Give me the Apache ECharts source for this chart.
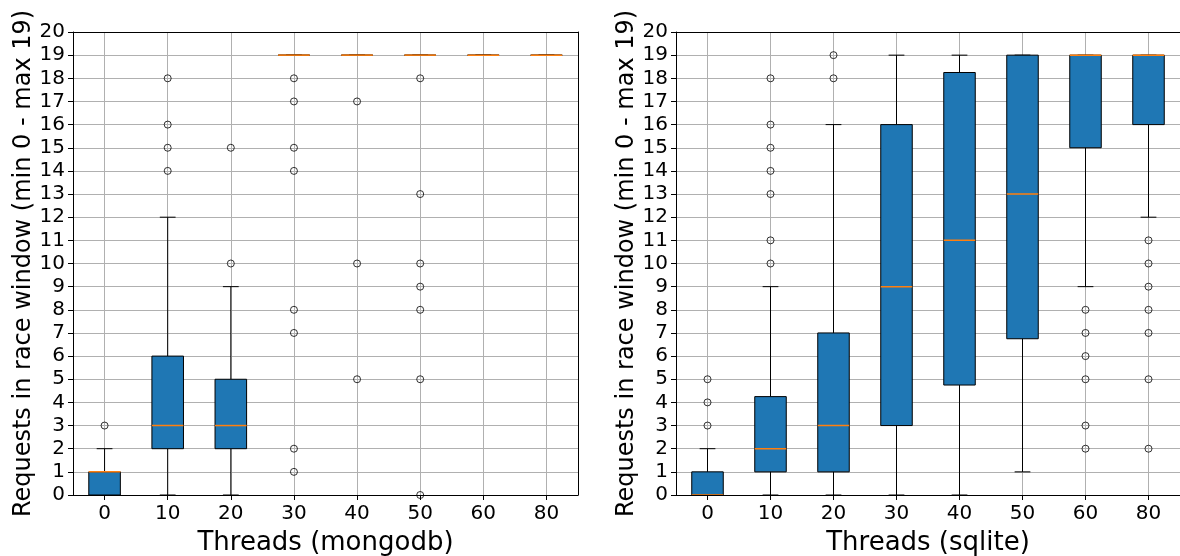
<!DOCTYPE html>
<html>
<head>
<meta charset="utf-8" />
<script src="https://cdn.jsdelivr.net/npm/echarts@6/dist/echarts.min.js"></script>
</head>
<body style="margin:0">
<div id="main" style="width:1180px;height:556px"></div>
<script>
// thread counts on the x axis
const threads = ['0', '10', '20', '30', '40', '50', '60', '80'];

// mongodb: whisker low, q1, median, q3, whisker high
const mongoLow = [0, 0, 0, 19, 19, 19, 19, 19];
const mongoQ1 = [0, 2, 2, 19, 19, 19, 19, 19];
const mongoMed = [1, 3, 3, 19, 19, 19, 19, 19];
const mongoQ3 = [1, 6, 5, 19, 19, 19, 19, 19];
const mongoHigh = [2, 12, 9, 19, 19, 19, 19, 19];
// outliers as [thread index, value]
const mongoFliers = [
  [0, 3],
  [1, 14], [1, 15], [1, 16], [1, 18],
  [2, 10], [2, 15],
  [3, 1], [3, 2], [3, 7], [3, 8], [3, 14], [3, 15], [3, 17], [3, 18],
  [4, 5], [4, 10], [4, 17],
  [5, 0], [5, 5], [5, 8], [5, 9], [5, 10], [5, 13], [5, 18]
];

// sqlite
const sqliteLow = [0, 0, 0, 0, 0, 1, 9, 12];
const sqliteQ1 = [0, 1, 1, 3, 4.75, 6.75, 15, 16];
const sqliteMed = [0, 2, 3, 9, 11, 13, 19, 19];
const sqliteQ3 = [1, 4.25, 7, 16, 18.25, 19, 19, 19];
const sqliteHigh = [2, 9, 16, 19, 19, 19, 19, 19];
const sqliteFliers = [
  [0, 3], [0, 4], [0, 5],
  [1, 10], [1, 11], [1, 13], [1, 14], [1, 15], [1, 16], [1, 18],
  [2, 18], [2, 19],
  [6, 2], [6, 3], [6, 5], [6, 6], [6, 7], [6, 8],
  [7, 2], [7, 5], [7, 7], [7, 8], [7, 9], [7, 10], [7, 11]
];

const font = 'DejaVu Sans';

function renderBox(params, api) {
  const i = api.value(0);
  const lo = api.coord([i, api.value(1)]);
  const q1 = api.coord([i, api.value(2)]);
  const md = api.coord([i, api.value(3)]);
  const q3 = api.coord([i, api.value(4)]);
  const hi = api.coord([i, api.value(5)]);
  const w = api.size([1, 0])[0] * 0.5;
  const x = lo[0];
  const black = { stroke: '#000', lineWidth: 1 };
  return {
    type: 'group',
    children: [
      { type: 'line', shape: { x1: x, y1: lo[1], x2: x, y2: q1[1] }, style: black },
      { type: 'line', shape: { x1: x, y1: q3[1], x2: x, y2: hi[1] }, style: black },
      { type: 'line', shape: { x1: x - w / 4, y1: lo[1], x2: x + w / 4, y2: lo[1] }, style: black },
      { type: 'line', shape: { x1: x - w / 4, y1: hi[1], x2: x + w / 4, y2: hi[1] }, style: black },
      {
        type: 'rect',
        shape: { x: x - w / 2, y: q3[1], width: w, height: q1[1] - q3[1] },
        style: { fill: '#1f77b4', stroke: '#000', lineWidth: 1 }
      },
      { type: 'line', shape: { x1: x - w / 2, y1: md[1], x2: x + w / 2, y2: md[1] }, style: { stroke: '#ff7f0e', lineWidth: 1.5 } }
    ]
  };
}

function boxData(lo, q1, md, q3, hi) {
  return threads.map((t, i) => [i, lo[i], q1[i], md[i], q3[i], hi[i]]);
}

function mainX(grid, name) {
  return {
    type: 'category', gridIndex: grid, data: threads, position: 'bottom',
    name: name, nameLocation: 'middle', nameGap: 35,
    nameTextStyle: { fontFamily: font, fontSize: 26, color: '#000' },
    axisLine: { show: false },
    axisTick: { show: true, alignWithLabel: true, length: 5, lineStyle: { color: '#000' } },
    axisLabel: { fontFamily: font, fontSize: 20, color: '#000', margin: 9 },
    splitLine: { show: true, alignWithLabel: true, lineStyle: { color: '#b0b0b0', width: 1 } }
  };
}
function mainY(grid) {
  return {
    type: 'value', gridIndex: grid, min: 0, max: 20, interval: 1, position: 'left',
    name: 'Requests in race window (min 0 - max 19)', nameLocation: 'middle', nameGap: 36,
    nameTextStyle: { fontFamily: font, fontSize: 24, color: '#000' },
    axisLine: { show: false },
    axisTick: { show: true, length: 5, lineStyle: { color: '#000' } },
    axisLabel: { fontFamily: font, fontSize: 20, color: '#000', margin: 8 },
    splitLine: { show: true, lineStyle: { color: '#b0b0b0', width: 1 } }
  };
}
// plain black frame lines drawn above the boxes
function spineX(grid, pos) {
  return {
    type: 'category', gridIndex: grid, data: threads, position: pos, z: 10,
    axisLine: { show: true, onZero: false, lineStyle: { color: '#000', width: 1 } },
    axisTick: { show: false }, axisLabel: { show: false }, splitLine: { show: false }
  };
}
function spineY(grid, pos) {
  return {
    type: 'value', gridIndex: grid, min: 0, max: 20, position: pos, z: 10,
    axisLine: { show: true, onZero: false, lineStyle: { color: '#000', width: 1 } },
    axisTick: { show: false }, axisLabel: { show: false }, splitLine: { show: false }
  };
}

const flierStyle = { color: 'rgba(0,0,0,0)', borderColor: '#000', borderWidth: 1 };

const option = {
  animation: false,
  grid: [
    { left: 73, top: 32, width: 505, height: 463, outerBoundsMode: 'none' },
    { left: 676, top: 32, width: 504, height: 463, outerBoundsMode: 'none' }
  ],
  xAxis: [
    mainX(0, 'Threads (mongodb)'), spineX(0, 'bottom'), spineX(0, 'top'),
    mainX(1, 'Threads (sqlite)'), spineX(1, 'bottom'), spineX(1, 'top')
  ],
  yAxis: [
    mainY(0), spineY(0, 'left'), spineY(0, 'right'),
    mainY(1), spineY(1, 'left'), spineY(1, 'right')
  ],
  series: [
    {
      type: 'custom', xAxisIndex: 0, yAxisIndex: 0, renderItem: renderBox, clip: true,
      encode: { x: 0, y: [1, 2, 3, 4, 5] },
      data: boxData(mongoLow, mongoQ1, mongoMed, mongoQ3, mongoHigh)
    },
    {
      type: 'scatter', xAxisIndex: 0, yAxisIndex: 0, symbol: 'circle', symbolSize: 7,
      itemStyle: flierStyle, data: mongoFliers
    },
    {
      type: 'custom', xAxisIndex: 3, yAxisIndex: 3, renderItem: renderBox, clip: true,
      encode: { x: 0, y: [1, 2, 3, 4, 5] },
      data: boxData(sqliteLow, sqliteQ1, sqliteMed, sqliteQ3, sqliteHigh)
    },
    {
      type: 'scatter', xAxisIndex: 3, yAxisIndex: 3, symbol: 'circle', symbolSize: 7,
      itemStyle: flierStyle, data: sqliteFliers
    }
  ]
};

const myChart = echarts.init(document.getElementById('main'));
myChart.setOption(option);
</script>
</body>
</html>
